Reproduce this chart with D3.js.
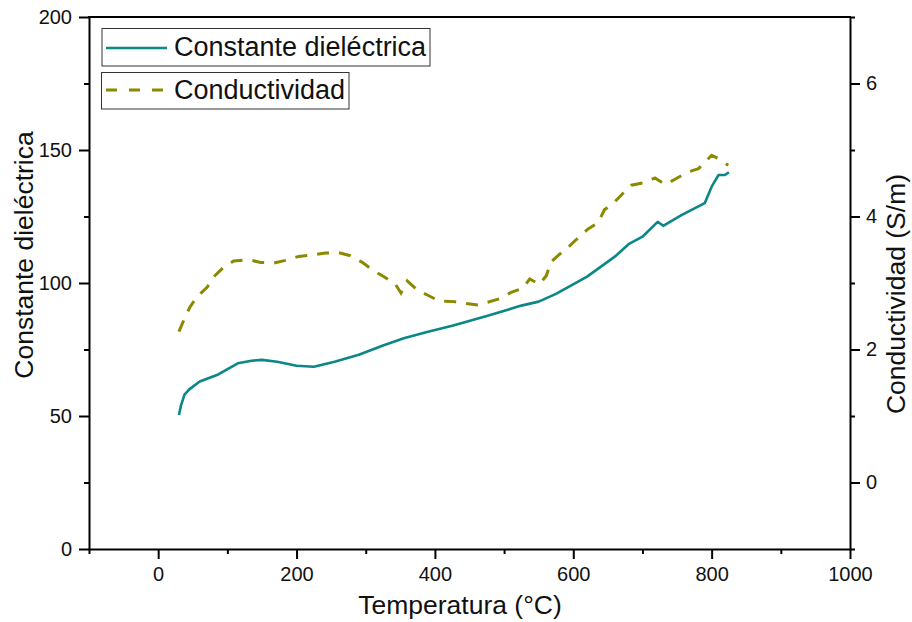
<!DOCTYPE html>
<html>
<head>
<meta charset="utf-8">
<script src="https://cdn.jsdelivr.net/npm/d3@7"></script>
<style>
  html, body { margin: 0; padding: 0; background: #fff; }
  svg { display: block; font-family: "Liberation Sans", Arial, sans-serif; }
</style>
</head>
<body>
<svg id="chart" width="912" height="622"></svg>
<script>
// ---- Data ----
const dielTemp = [30, 33, 38, 45, 60, 85, 115, 135, 150, 172, 200, 225, 255, 290, 325, 355, 390, 425, 475, 525, 550, 575, 620, 660, 680, 700, 722, 730, 757, 790, 800, 810, 819, 825];
const dielValue = [50.4, 54, 58, 60, 63, 65.4, 69.8, 70.8, 71.1, 70.4, 68.9, 68.5, 70.4, 73, 76.5, 79.2, 81.7, 83.9, 87.6, 91.5, 93, 95.9, 102.4, 109.9, 114.6, 117.4, 123, 121.5, 125.6, 130, 136.2, 140.6, 140.6, 141.6];

const condTemp = [30, 37, 46, 56, 71, 80, 95, 109, 131, 148, 167, 184, 203, 220, 242, 259, 278, 295, 312, 327, 343, 351, 360, 375, 389, 406, 428, 440, 462, 476, 496, 510, 527, 537, 551, 561, 568, 580, 594, 604, 621, 636, 645, 658, 672, 684, 703, 718, 733, 747, 766, 781, 800, 810, 824];
const condValue = [2.27, 2.44, 2.64, 2.79, 2.94, 3.09, 3.24, 3.33, 3.35, 3.31, 3.30, 3.34, 3.40, 3.42, 3.45, 3.46, 3.41, 3.31, 3.18, 3.09, 2.98, 2.85, 3.03, 2.89, 2.82, 2.73, 2.72, 2.70, 2.67, 2.71, 2.77, 2.86, 2.92, 3.06, 2.98, 3.11, 3.32, 3.43, 3.55, 3.65, 3.81, 3.91, 4.10, 4.20, 4.35, 4.47, 4.51, 4.58, 4.48, 4.56, 4.67, 4.72, 4.92, 4.87, 4.77];

const xTicks = [0, 200, 400, 600, 800, 1000];
const xMinorTicks = [-100, 100, 300, 500, 700, 900];
const yLeftTicks = [0, 50, 100, 150, 200];
const yLeftMinorTicks = [25, 75, 125, 175];
const yRightTicks = [0, 2, 4, 6];
const yRightMinorTicks = [-1, 1, 3, 5, 7];

const seriesNames = ["Constante dieléctrica", "Conductividad"];
const xTitle = "Temperatura (°C)";
const yLeftTitle = "Constante dieléctrica";
const yRightTitle = "Conductividad (S/m)";

// ---- Layout ----
const svg = d3.select("#chart");
const L = 89, R = 850, T = 17, B = 549;
const tealColor = "#0b8787";
const oliveColor = "#8a8a00";

const x = d3.scaleLinear().domain([-100, 1000]).range([L, R]);
const yL = d3.scaleLinear().domain([0, 200]).range([B, T]);
const yR = d3.scaleLinear().domain([-1, 7]).range([B, T]);

function styleAxis(g) {
  g.selectAll("path.domain").attr("stroke", "#000").attr("stroke-width", 2);
  g.selectAll(".tick line").attr("stroke", "#000").attr("stroke-width", 2);
  g.selectAll(".tick text").attr("fill", "#111").style("font-size", "20px")
    .style("font-family", "'Liberation Sans', Arial, sans-serif");
}

// bottom
svg.append("g").attr("transform", `translate(0,${B})`)
  .call(d3.axisBottom(x).tickValues(xMinorTicks).tickSize(5).tickFormat(""))
  .call(g => g.select(".domain").remove())
  .call(styleAxis);
svg.append("g").attr("transform", `translate(0,${B})`)
  .call(d3.axisBottom(x).tickValues(xTicks).tickSize(10).tickSizeOuter(0).tickPadding(8).tickFormat(d3.format("d")))
  .call(styleAxis);

// left
svg.append("g").attr("transform", `translate(${L},0)`)
  .call(d3.axisLeft(yL).tickValues(yLeftMinorTicks).tickSize(5).tickFormat(""))
  .call(g => g.select(".domain").remove())
  .call(styleAxis);
svg.append("g").attr("transform", `translate(${L},0)`)
  .call(d3.axisLeft(yL).tickValues(yLeftTicks).tickSize(10).tickSizeOuter(0).tickPadding(7).tickFormat(d3.format("d")))
  .call(styleAxis);

// right
svg.append("g").attr("transform", `translate(${R},0)`)
  .call(d3.axisRight(yR).tickValues(yRightMinorTicks).tickSize(5).tickFormat(""))
  .call(g => g.select(".domain").remove())
  .call(styleAxis);
svg.append("g").attr("transform", `translate(${R},0)`)
  .call(d3.axisRight(yR).tickValues(yRightTicks).tickSize(10).tickSizeOuter(0).tickPadding(6).tickFormat(d3.format("d")))
  .call(styleAxis);

// top border
svg.append("line").attr("x1", L - 1).attr("x2", R + 1).attr("y1", T).attr("y2", T)
  .attr("stroke", "#000").attr("stroke-width", 2);

// Lines
const dielData = dielTemp.map((t, i) => [t, dielValue[i]]);
const condData = condTemp.map((t, i) => [t, condValue[i]]);

svg.append("path").datum(condData)
  .attr("fill", "none").attr("stroke", oliveColor).attr("stroke-width", 3)
  .attr("stroke-dasharray", "12,10")
  .attr("d", d3.line().x(d => x(d[0])).y(d => yR(d[1])));

svg.append("path").datum(dielData)
  .attr("fill", "none").attr("stroke", tealColor).attr("stroke-width", 2.6)
  .attr("stroke-linejoin", "round")
  .attr("d", d3.line().x(d => x(d[0])).y(d => yL(d[1])));

// Legend
const leg = svg.append("g");
leg.append("rect").attr("x", 102).attr("y", 28.5).attr("width", 328).attr("height", 37.5)
  .attr("fill", "#fff").attr("stroke", "#333").attr("stroke-width", 1);
leg.append("line").attr("x1", 106).attr("x2", 167).attr("y1", 48).attr("y2", 48)
  .attr("stroke", tealColor).attr("stroke-width", 2.6);
leg.append("text").attr("x", 174).attr("y", 56).text(seriesNames[0])
  .style("font-size", "27px").attr("fill", "#111");

leg.append("rect").attr("x", 101.5).attr("y", 72.5).attr("width", 247.5).attr("height", 36.5)
  .attr("fill", "#fff").attr("stroke", "#333").attr("stroke-width", 1);
leg.append("line").attr("x1", 106).attr("x2", 167).attr("y1", 90).attr("y2", 90)
  .attr("stroke", oliveColor).attr("stroke-width", 3).attr("stroke-dasharray", "11,12");
leg.append("text").attr("x", 174).attr("y", 99).text(seriesNames[1])
  .style("font-size", "27px").attr("fill", "#111");

// Titles
svg.append("text").attr("x", 460).attr("y", 614).attr("text-anchor", "middle")
  .style("font-size", "26.5px").attr("fill", "#111").text(xTitle);
svg.append("text").attr("transform", "translate(33,255) rotate(-90)").attr("text-anchor", "middle")
  .style("font-size", "26.5px").attr("fill", "#111").text(yLeftTitle);
svg.append("text").attr("transform", "translate(905,294) rotate(-90)").attr("text-anchor", "middle")
  .style("font-size", "26.5px").attr("fill", "#111").text(yRightTitle);
</script>
</body>
</html>
